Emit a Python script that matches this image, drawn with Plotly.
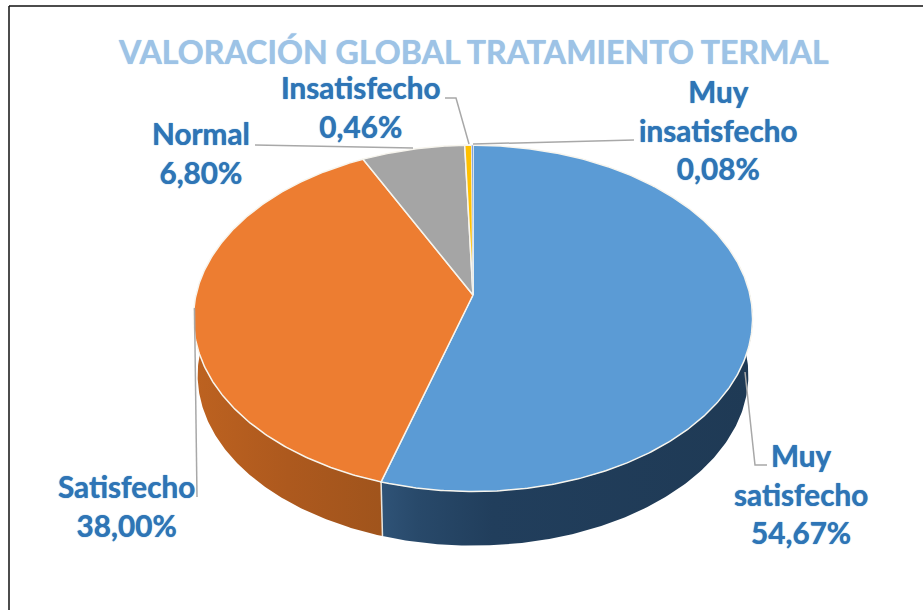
import numpy as np
import plotly.graph_objects as go

categories = ["Muy satisfecho", "Satisfecho", "Normal", "Insatisfecho", "Muy insatisfecho"]
values = [54.67, 38.00, 6.80, 0.46, 0.08]
title_text = "VALORACIÓN GLOBAL TRATAMIENTO TERMAL"

top_colors = ["#5b9bd5", "#ed7d31", "#a5a5a5", "#ffc000", "#4472c4"]
side_scales = [
    [[0, "#2f5377"], [0.1, "#28496a"], [0.3, "#213e5c"], [1, "#1f3a55"]],
    [[0, "#bd6220"], [0.5, "#ad591e"], [1, "#a0541c"]],
    None, None, None,
]

# Pie geometry in page pixels: a perspective projection of a disc
CX, CY, RX, RY, K = 473.0, 295.0, 277.0, 170.0, 0.135
DEPTH, LOWER_SCALE = 57.0, 0.985
TEXT = "#2e75b6"
TITLE = "#9dc3e6"
LEADER = "#a8a8a8"
FONT = "Lato"


def rim(theta_deg, scale=1.0, dy=0.0):
    t = np.radians(theta_deg)
    u, v = np.sin(t), np.cos(t)
    w = 1 + K * v
    return CX + scale * RX * u / w, CY + dy - scale * RY * v / w


total = sum(values)
edges = np.concatenate([[0], np.cumsum(values)]) / total * 360

fig = go.Figure()

# Outer wall: only the part of each slice facing the viewer
for i in range(len(values)):
    a, b = max(edges[i], 80), min(edges[i + 1], 280)
    if b <= a or side_scales[i] is None:
        continue
    th = np.linspace(a, b, 160)
    x1, y1 = rim(th)
    x2, y2 = rim(th[::-1], LOWER_SCALE, DEPTH)
    fig.add_trace(go.Scatter(
        x=np.r_[x1, x2, x1[0]], y=np.r_[y1, y2, y1[0]], mode="lines",
        line=dict(color="rgba(0,0,0,0)", width=0), fill="toself",
        fillgradient=dict(type="horizontal", colorscale=side_scales[i]),
        hoverinfo="skip", showlegend=False))

# Seam between the two visible wall sections
sx1, sy1 = rim(edges[1])
sx2, sy2 = rim(edges[1], LOWER_SCALE, DEPTH)
fig.add_trace(go.Scatter(x=[sx1, sx2], y=[sy1, sy2], mode="lines",
                         line=dict(color="#e8e6e0", width=1.5),
                         hoverinfo="skip", showlegend=False))

# Top faces
for i, cat in enumerate(categories):
    n = max(8, int((edges[i + 1] - edges[i]) * 2))
    th = np.linspace(edges[i], edges[i + 1], n)
    x, y = rim(th)
    fig.add_trace(go.Scatter(
        x=np.r_[CX, x, CX], y=np.r_[CY, y, CY], mode="lines", name=cat,
        line=dict(color="#f7f5ee", width=1.5 if values[i] > 0.2 else 0.5), fill="toself",
        fillcolor=top_colors[i], hoverinfo="skip", showlegend=False))

# Leader lines
leaders = [
    ([745, 755, 767], [372, 465, 465]),
    ([194.5, 197], [308, 497]),
    ([255, 413], [145, 148]),
    ([445, 456, 469], [98, 98, 144]),
    ([473, 634], [144, 140]),
]
for lx, ly in leaders:
    fig.add_trace(go.Scatter(x=lx, y=ly, mode="lines", line=dict(color=LEADER, width=1.5),
                             hoverinfo="skip", showlegend=False))

# Labels
label_pos = [(801, 493.5), (126, 505.5), (201, 153), (361, 107), (718, 130)]
for cat, val, (px, py) in zip(categories, values, label_pos):
    txt = cat.replace(" ", "<br>") + "<br>" + f"{val:.2f}".replace(".", ",") + "%"
    fig.add_annotation(x=px, y=py, text=txt, showarrow=False, xanchor="center", yanchor="middle",
                       align="center",
                       font=dict(family=FONT, size=29.7, color=TEXT, weight="bold",
                                 shadow=f"0 0 1px {TEXT}"))

fig.add_annotation(x=473, y=51, text=title_text, showarrow=False, xanchor="center", yanchor="middle",
                   font=dict(family=FONT, size=32.2, color=TITLE, weight="bold",
                             shadow=f"0 0 1px {TITLE}"))

# Frame
fig.add_shape(type="line", x0=9, y0=6, x1=923, y1=6, line=dict(color="#111111", width=1.5))
fig.add_shape(type="line", x0=9, y0=6, x1=9, y1=610, line=dict(color="#111111", width=1.5))

fig.update_layout(
    width=923, height=610, autosize=False,
    margin=dict(l=0, r=0, t=0, b=0),
    paper_bgcolor="white", plot_bgcolor="white",
    xaxis=dict(range=[0, 923], visible=False, fixedrange=True),
    yaxis=dict(range=[610, 0], visible=False, fixedrange=True),
)
fig.write_html("out.html", config={"displayModeBar": False},
               post_script="document.body.style.margin='0';document.body.style.overflow='hidden';")
